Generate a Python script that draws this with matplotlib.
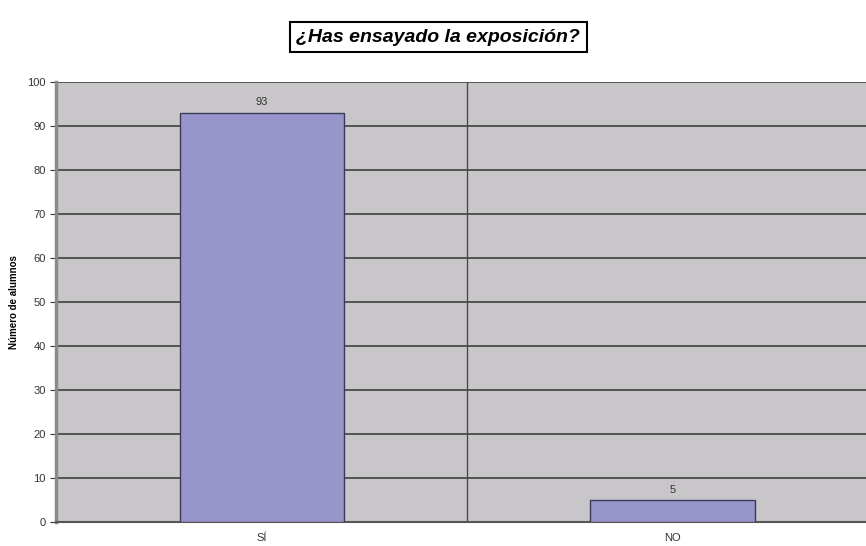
import matplotlib.pyplot as plt

# survey answers and counts
categories = ["SÍ", "NO"]
counts = [93, 5]
y_ticks = list(range(0, 101, 10))

plt.rcParams['font.family'] = ['Liberation Sans', 'DejaVu Sans']

fig = plt.figure(figsize=(8.66, 5.46), dpi=100)
ax = fig.add_axes([0.065, 0.044, 0.949, 0.806])
ax.set_facecolor('#c8c6c9')

x = range(len(categories))
bars = ax.bar(x, counts, width=0.4, color='#9895ca', edgecolor='#3a3a5a', linewidth=1, zorder=3)

# value labels above each bar
for b, v in zip(bars, counts):
    ax.text(b.get_x() + b.get_width() / 2, v + 1.2, str(v), ha='center', va='bottom',
            fontsize=8, color='#333333', zorder=4)

ax.set_xlim(-0.5, len(categories) - 0.5)
ax.set_ylim(0, 100)
ax.set_yticks(y_ticks)
ax.set_xticks(list(x))
ax.set_xticklabels(categories, fontsize=8, color='#333333')
ax.tick_params(axis='y', labelsize=8, labelcolor='#333333', length=4, color='#333333')
ax.tick_params(axis='x', length=0, pad=8)

# horizontal gridlines and category divider
ax.yaxis.grid(True, color='#4a4a4a', linewidth=1.3, zorder=1)
for i in range(len(categories) - 1):
    ax.axvline(i + 0.5, color='#4a4a4a', linewidth=1, zorder=1)

for side in ['top', 'right']:
    ax.spines[side].set_visible(False)
ax.spines['left'].set_color('#8a8a8a')
ax.spines['left'].set_linewidth(2.5)
ax.spines['bottom'].set_color('#555555')
ax.spines['bottom'].set_linewidth(1.5)

ax.set_ylabel("Número de alumnos", fontsize=7, fontweight='bold', labelpad=6)

fig.text(0.506, 0.932, "¿Has ensayado la exposición?", ha='center', va='center',
         fontsize=14, fontweight='bold', style='italic',
         bbox=dict(boxstyle='square,pad=0.35', facecolor='white', edgecolor='black', linewidth=1.5))

fig.savefig('out.png', dpi=100)
